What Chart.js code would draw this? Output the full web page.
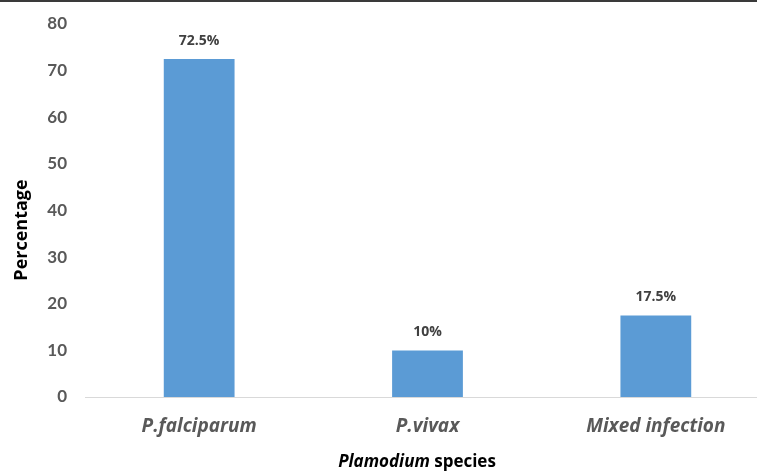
<!DOCTYPE html>
<html>
<head>
<meta charset="utf-8">
<script src="https://cdn.jsdelivr.net/npm/chart.js@4/dist/chart.umd.min.js"></script>
<style>
  html, body { margin: 0; padding: 0; background: #fff; overflow: hidden; }
  #wrap { width: 770px; height: 471px; position: relative; }
</style>
</head>
<body>
<div id="wrap"><canvas id="c" width="770" height="471"></canvas></div>
<script>
// Species and their share of infections (%)
const species = ['P.falciparum', 'P.vivax', 'Mixed infection'];
const percentages = [72.5, 10, 17.5];
const valueLabels = ['72.5%', '10%', '17.5%'];
const yTicks = [0, 10, 20, 30, 40, 50, 60, 70, 80];

const GREY = '#595959';

// Value labels above bars, axis titles and the top rule
const annotate = {
  id: 'annotate',
  afterDatasetsDraw(chart) {
    const ctx = chart.ctx;
    const meta = chart.getDatasetMeta(0);
    ctx.save();
    ctx.fillStyle = '#404040';
    ctx.font = 'bold 14px "Open Sans"';
    ctx.textAlign = 'center';
    ctx.textBaseline = 'middle';
    meta.data.forEach((bar, i) => {
      ctx.fillText(valueLabels[i], bar.x, bar.y - 18);
    });

    // y axis title
    ctx.fillStyle = '#000';
    ctx.font = 'bold 18px "Open Sans"';
    ctx.translate(22, 230);
    ctx.rotate(-Math.PI / 2);
    ctx.fillText('Percentage', 0, 0);
    ctx.setTransform(1, 0, 0, 1, 0, 0);

    // x axis title: italic genus name followed by plain "species"
    const a = 'Plamodium', b = ' species';
    const fa = 'italic bold 17px "Open Sans"', fb = 'bold 17px "Open Sans"';
    ctx.font = fa; const wa = ctx.measureText(a).width;
    ctx.font = fb; const wb = ctx.measureText(b).width;
    const x0 = 417 - (wa + wb) / 2;
    ctx.textAlign = 'left';
    ctx.textBaseline = 'alphabetic';
    ctx.font = fa; ctx.fillText(a, x0, 467);
    ctx.font = fb; ctx.fillText(b, x0 + wa, 467);

    // top rule
    ctx.fillStyle = '#3a3a3a';
    ctx.fillRect(0, 0, chart.width, 2);
    ctx.restore();
  }
};

new Chart(document.getElementById('c'), {
  type: 'bar',
  data: {
    labels: species,
    datasets: [{
      data: percentages,
      backgroundColor: '#5B9BD5',
      barPercentage: 0.31,
      categoryPercentage: 1
    }]
  },
  options: {
    responsive: false,
    animation: false,
    layout: { padding: { top: 24, left: 0, right: 0, bottom: 0 } },
    plugins: { legend: { display: false }, tooltip: { enabled: false } },
    scales: {
      x: {
        afterFit(s) { s.height = 74; },
        grid: { display: false, drawTicks: false },
        border: { display: true, color: '#d9d9d9', width: 1 },
        ticks: {
          padding: 18,
          color: GREY,
          font: { family: '"Open Sans"', size: 19, style: 'italic', weight: 'bold' }
        }
      },
      y: {
        min: 0,
        max: 80,
        afterFit(s) { s.width = 85; s.paddingTop = 0; s.paddingBottom = 0; },
        afterBuildTicks(s) { s.ticks = yTicks.map(v => ({ value: v })); },
        grid: { display: false, drawTicks: false },
        border: { display: false },
        ticks: {
          padding: 18,
          color: GREY,
          font: { family: 'Lato', size: 17, weight: 'bold' }
        }
      }
    }
  },
  plugins: [annotate]
});
</script>
</body>
</html>
